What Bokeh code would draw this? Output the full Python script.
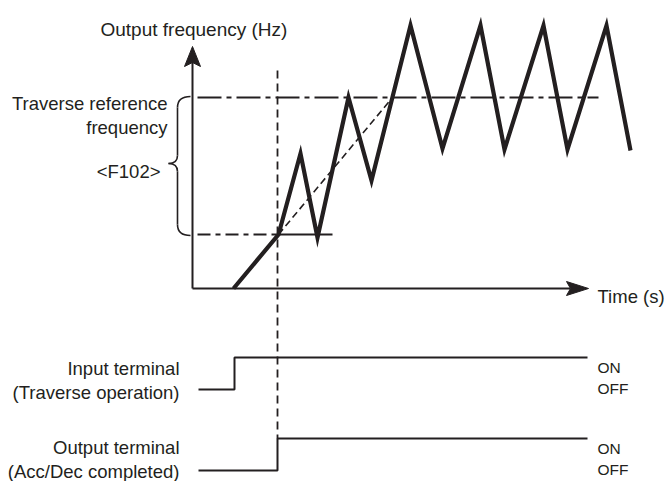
from bokeh.plotting import figure
from bokeh.models import Range1d
from bokeh.core.properties import value
from bokeh.embed import file_html
from bokeh.resources import INLINE

INK = "#231f20"
FONT = "Liberation Sans"

# Diagram data (page pixel coordinates, y grows downward)
freq_t = [233, 278, 300, 317, 348, 371, 410, 442, 480, 504, 543, 567, 606, 630]
freq_f = [288, 234, 153, 237, 97, 180, 25, 148, 25, 149, 25, 149, 25, 150]

ramp_t = [278, 392]
ramp_f = [234, 97]

ref_upper_t = [197, 598]
ref_upper_f = [97, 97]
ref_lower_dash_t = [197, 277]
ref_lower_solid_t = [277, 332]
ref_lower_f = 234

t_complete = 277
t_input_on = 234

in_t = [198, t_input_on, t_input_on, 587]
in_lvl = [389, 389, 357, 357]
out_t = [198, t_complete, t_complete, 587]
out_lvl = [470, 470, 438, 438]

p = figure(width=666, height=481, output_backend="svg", toolbar_location=None,
           x_range=Range1d(0, 666), y_range=Range1d(481, 0), min_border=0)
p.axis.visible = False
p.grid.visible = False
p.outline_line_color = None
p.background_fill_color = "white"

# axes
p.line([192, 192], [288, 60], line_color=INK, line_width=2)
p.patch([192, 184, 192, 200], [46, 66, 62, 66], fill_color=INK, line_color=INK)
p.line([192, 570], [288, 288], line_color=INK, line_width=2)
p.patch([588, 566, 570, 566], [288, 281, 288, 295], fill_color=INK, line_color=INK)

# reference lines
p.line(ref_upper_t, ref_upper_f, line_color=INK, line_width=1.8, line_dash="24 5 5 5")
p.line(ref_lower_dash_t, [ref_lower_f] * 2, line_color=INK, line_width=1.8, line_dash="13 5 5 5")
p.line(ref_lower_solid_t, [ref_lower_f] * 2, line_color=INK, line_width=1.8)

# vertical dashed marker
p.line([t_complete, t_complete], [70, 438], line_color=INK, line_width=1.8, line_dash="8 5")

# ramp (dashed)
p.line(ramp_t, ramp_f, line_color=INK, line_width=1.6, line_dash="7 4")

# output frequency
p.line(freq_t, freq_f, line_color=INK, line_width=4.2, line_join="miter")

# brace
bw = 1.6
p.quadratic(x0=[190], y0=[96], x1=[177], y1=[107], cx=[177], cy=[96], line_color=INK, line_width=bw)
p.line([177, 177], [107, 155], line_color=INK, line_width=bw)
p.quadratic(x0=[177], y0=[155], x1=[168], y1=[163], cx=[177], cy=[163], line_color=INK, line_width=bw)
p.quadratic(x0=[168], y0=[163], x1=[177], y1=[171], cx=[177], cy=[163], line_color=INK, line_width=bw)
p.line([177, 177], [171, 224], line_color=INK, line_width=bw)
p.quadratic(x0=[177], y0=[224], x1=[190], y1=[235], cx=[177], cy=[235], line_color=INK, line_width=bw)

# terminal signals
p.line(in_t, in_lvl, line_color=INK, line_width=2)
p.line(out_t, out_lvl, line_color=INK, line_width=2)

def txt(x, y, s, align="left", size="18.5px"):
    p.text(x=[x], y=[y], text=[s], text_align=align, text_baseline="alphabetic",
           text_font=value(FONT), text_font_size=size, text_color=INK)

txt(100, 29, "Output frequency (Hz)", size="19px")
txt(167, 103, "Traverse reference", "right")
txt(167, 127, "frequency", "right")
txt(160, 171, "<F102>", "right")
txt(597, 296, "Time (s)")
txt(179, 368, "Input terminal", "right")
txt(179, 392, "(Traverse operation)", "right")
txt(179, 447, "Output terminal", "right")
txt(179, 471, "(Acc/Dec completed)", "right")
txt(597, 367, "ON", size="15.5px")
txt(597, 388, "OFF", size="15.5px")
txt(597, 448, "ON", size="15.5px")
txt(597, 469, "OFF", size="15.5px")

open("out.html", "w").write(file_html(p, INLINE))
